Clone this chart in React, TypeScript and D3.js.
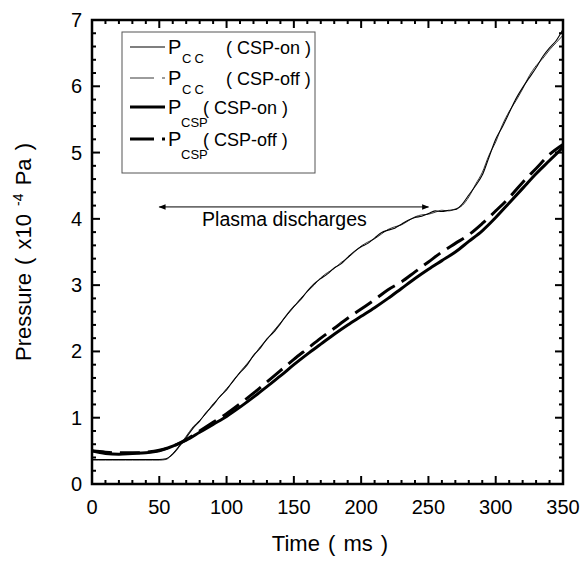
import React from "react";
import * as d3 from "d3";

// ---- data (time in ms, pressure in 1e-4 Pa) ----
const timeFine = [
  0, 5, 10, 15, 20, 25, 30, 35, 40, 45, 50, 55, 60, 65, 70, 75, 80, 85, 90, 95,
  100, 105, 110, 115, 120, 125, 130, 135, 140, 145, 150, 155, 160, 165, 170, 175,
  180, 185, 190, 195, 200, 205, 210, 215, 220, 225, 230, 235, 240, 245, 250, 255,
  260, 265, 270, 275, 280, 285, 290, 295, 300, 305, 310, 315, 320, 325, 330, 335,
  340, 345, 350,
];
const ccOn = [
  0.37, 0.37, 0.37, 0.37, 0.37, 0.37, 0.37, 0.37, 0.37, 0.37, 0.37, 0.38, 0.45, 0.57,
  0.7, 0.84, 0.95, 1.08, 1.19, 1.32, 1.42, 1.56, 1.68, 1.79, 1.94, 2.05, 2.19, 2.29,
  2.42, 2.56, 2.68, 2.78, 2.91, 3.02, 3.1, 3.17, 3.26, 3.32, 3.42, 3.51, 3.58, 3.63,
  3.71, 3.79, 3.83, 3.86, 3.92, 3.98, 4.02, 4.04, 4.08, 4.12, 4.11, 4.13, 4.14, 4.22,
  4.36, 4.5, 4.66, 4.93, 5.2, 5.39, 5.6, 5.81, 5.98, 6.13, 6.28, 6.45, 6.58, 6.69, 6.86,
];
const ccOff = [
  0.36, 0.36, 0.36, 0.36, 0.36, 0.36, 0.36, 0.36, 0.36, 0.36, 0.36, 0.37, 0.46, 0.58,
  0.72, 0.86, 0.96, 1.07, 1.21, 1.31, 1.44, 1.55, 1.69, 1.81, 1.93, 2.07, 2.18, 2.31,
  2.43, 2.55, 2.67, 2.8, 2.9, 3.0, 3.11, 3.19, 3.25, 3.34, 3.41, 3.5, 3.59, 3.65,
  3.7, 3.77, 3.84, 3.88, 3.91, 3.97, 4.03, 4.06, 4.07, 4.1, 4.13, 4.12, 4.15, 4.2,
  4.33, 4.52, 4.7, 4.96, 5.16, 5.42, 5.62, 5.78, 5.96, 6.16, 6.31, 6.42, 6.55, 6.66, 6.77,
];
const timeCoarse = [
  0, 10, 20, 30, 40, 50, 60, 70, 80, 90, 100, 110, 120, 130, 140, 150, 160, 170, 180,
  190, 200, 210, 220, 230, 240, 250, 260, 270, 280, 290, 300, 310, 320, 330, 340, 350,
];
const cspOn = [
  0.5, 0.46, 0.45, 0.46, 0.47, 0.5, 0.57, 0.66, 0.78, 0.9, 1.02, 1.16, 1.31, 1.47, 1.63,
  1.8, 1.96, 2.11, 2.26, 2.4, 2.53, 2.66, 2.8, 2.95, 3.1, 3.24, 3.37, 3.5, 3.66, 3.82,
  4.02, 4.24, 4.46, 4.68, 4.88, 5.08,
];
const cspOff = [
  0.5, 0.48, 0.47, 0.47, 0.48, 0.51, 0.57, 0.67, 0.8, 0.93, 1.06, 1.21, 1.37, 1.54, 1.71,
  1.88, 2.04, 2.2, 2.35, 2.5, 2.64, 2.78, 2.93, 3.05, 3.2, 3.35, 3.5, 3.63, 3.76, 3.93,
  4.12, 4.32, 4.55, 4.76, 4.97, 5.12,
];
const xTicks = [0, 50, 100, 150, 200, 250, 300, 350];
const yTicks = [0, 1, 2, 3, 4, 5, 6, 7];
const arrowRange = [50, 250];
const arrowLevel = 4.18;
const arrowLabel = "Plasma discharges";

const FONT = "'Liberation Sans', Arial, Helvetica, sans-serif";

export default function App() {
  const left = 92, right = 563, top = 20, bottom = 484;
  const x = d3.scaleLinear().domain([0, 350]).range([left, right]);
  const y = d3.scaleLinear().domain([0, 7]).range([bottom, top]);

  const mk = (ts: number[], vs: number[]) =>
    d3.line<number>().x((_, i) => x(ts[i])).y((v) => y(v)).curve(d3.curveMonotoneX)(vs) || "";

  const xMinor = d3.range(0, 351, 10);
  const yMinor = d3.range(0, 7.01, 0.2);

  const ticks: React.ReactNode[] = [];
  xMinor.forEach((t, i) => {
    const major = Math.abs(t % 50) < 1e-6;
    const len = major ? 8 : 4;
    ticks.push(<line key={"xb" + i} x1={x(t)} x2={x(t)} y1={bottom} y2={bottom - len} stroke="#000" strokeWidth={2} />);
    ticks.push(<line key={"xt" + i} x1={x(t)} x2={x(t)} y1={top} y2={top + len} stroke="#000" strokeWidth={2} />);
  });
  yMinor.forEach((t, i) => {
    const major = Math.abs(t - Math.round(t)) < 1e-6;
    const len = major ? 8 : 4;
    ticks.push(<line key={"yl" + i} x1={left} x2={left + len} y1={y(t)} y2={y(t)} stroke="#000" strokeWidth={2} />);
    ticks.push(<line key={"yr" + i} x1={right} x2={right - len} y1={y(t)} y2={y(t)} stroke="#000" strokeWidth={2} />);
  });

  const lg = { x1: 130, x2: 165, tx: 168 };
  const rows = [47, 78, 107, 139];

  return (
    <svg width={584} height={565} style={{ position: "absolute", left: 0, top: 0, background: "#fff" }} fontFamily={FONT}>
      <rect x={0} y={0} width={584} height={565} fill="#fff" />
      {/* data lines */}
      <path d={mk(timeFine, ccOff)} fill="none" stroke="#222" strokeWidth={0.9} />
      <path d={mk(timeFine, ccOn)} fill="none" stroke="#000" strokeWidth={1.1} />
      <path d={mk(timeCoarse, cspOn)} fill="none" stroke="#000" strokeWidth={3} />
      <path d={mk(timeCoarse, cspOff)} fill="none" stroke="#000" strokeWidth={3} strokeDasharray="20,8" />

      {/* frame */}
      <rect x={left} y={top} width={right - left} height={bottom - top} fill="none" stroke="#000" strokeWidth={2.5} />
      {ticks}

      {/* tick labels */}
      {xTicks.map((t) => (
        <text key={"xl" + t} x={x(t)} y={514} fontSize={20} textAnchor="middle">{t}</text>
      ))}
      {yTicks.map((t) => (
        <text key={"yl" + t} x={82} y={y(t) + 7} fontSize={20} textAnchor="end">{t}</text>
      ))}

      {/* axis titles */}
      <text x={330} y={551} fontSize={22} textAnchor="middle" wordSpacing={2}>Time ( ms )</text>
      <text transform={`translate(31,${(top + bottom) / 2}) rotate(-90)`} fontSize={22} textAnchor="middle" wordSpacing={2}>
        Pressure ( x10 <tspan dy={-8} fontSize={14}>-4</tspan><tspan dy={8}> Pa )</tspan>
      </text>

      {/* arrow */}
      <defs>
        <marker id="ah" viewBox="0 0 10 10" refX={9} refY={5} markerWidth={10} markerHeight={7} orient="auto-start-reverse" markerUnits="userSpaceOnUse">
          <path d="M0,1 L10,5 L0,9 z" fill="#000" />
        </marker>
      </defs>
      <line x1={x(arrowRange[0])} x2={x(arrowRange[1])} y1={y(arrowLevel)} y2={y(arrowLevel)} stroke="#000" strokeWidth={1} markerStart="url(#ah)" markerEnd="url(#ah)" />
      <text x={x(143)} y={y(arrowLevel) + 19} fontSize={19.5} textAnchor="middle">{arrowLabel}</text>

      {/* legend */}
      <rect x={122} y={32} width={193} height={141} fill="#fff" stroke="#555" strokeWidth={1} />
      <line x1={lg.x1} x2={lg.x2} y1={rows[0]} y2={rows[0]} stroke="#000" strokeWidth={1.1} />
      <line x1={lg.x1} x2={lg.x2} y1={rows[1]} y2={rows[1]} stroke="#222" strokeWidth={0.9} strokeDasharray="24,8,3,50" />
      <line x1={lg.x1} x2={lg.x2} y1={rows[2]} y2={rows[2]} stroke="#000" strokeWidth={3} />
      <line x1={lg.x1} x2={lg.x2} y1={rows[3]} y2={rows[3]} stroke="#000" strokeWidth={3} strokeDasharray="24,8,3,50" />
      {[0, 1].map((r) => (
        <g key={"cc" + r}>
          <text x={lg.tx} y={rows[r] + 7} fontSize={20}>P</text>
          <text x={lg.tx + 14} y={rows[r] + 16} fontSize={13} letterSpacing={3}>CC</text>
          <text x={226} y={rows[r] + 7} fontSize={18}>{r === 0 ? "( CSP-on )" : "( CSP-off )"}</text>
        </g>
      ))}
      {[2, 3].map((r) => (
        <g key={"csp" + r}>
          <text x={lg.tx} y={rows[r] + 7} fontSize={20}>P</text>
          <text x={lg.tx + 13} y={rows[r] + 20} fontSize={13}>CSP</text>
          <text x={203} y={rows[r] + 7} fontSize={18}>{r === 2 ? "( CSP-on )" : "( CSP-off )"}</text>
        </g>
      ))}
    </svg>
  );
}
